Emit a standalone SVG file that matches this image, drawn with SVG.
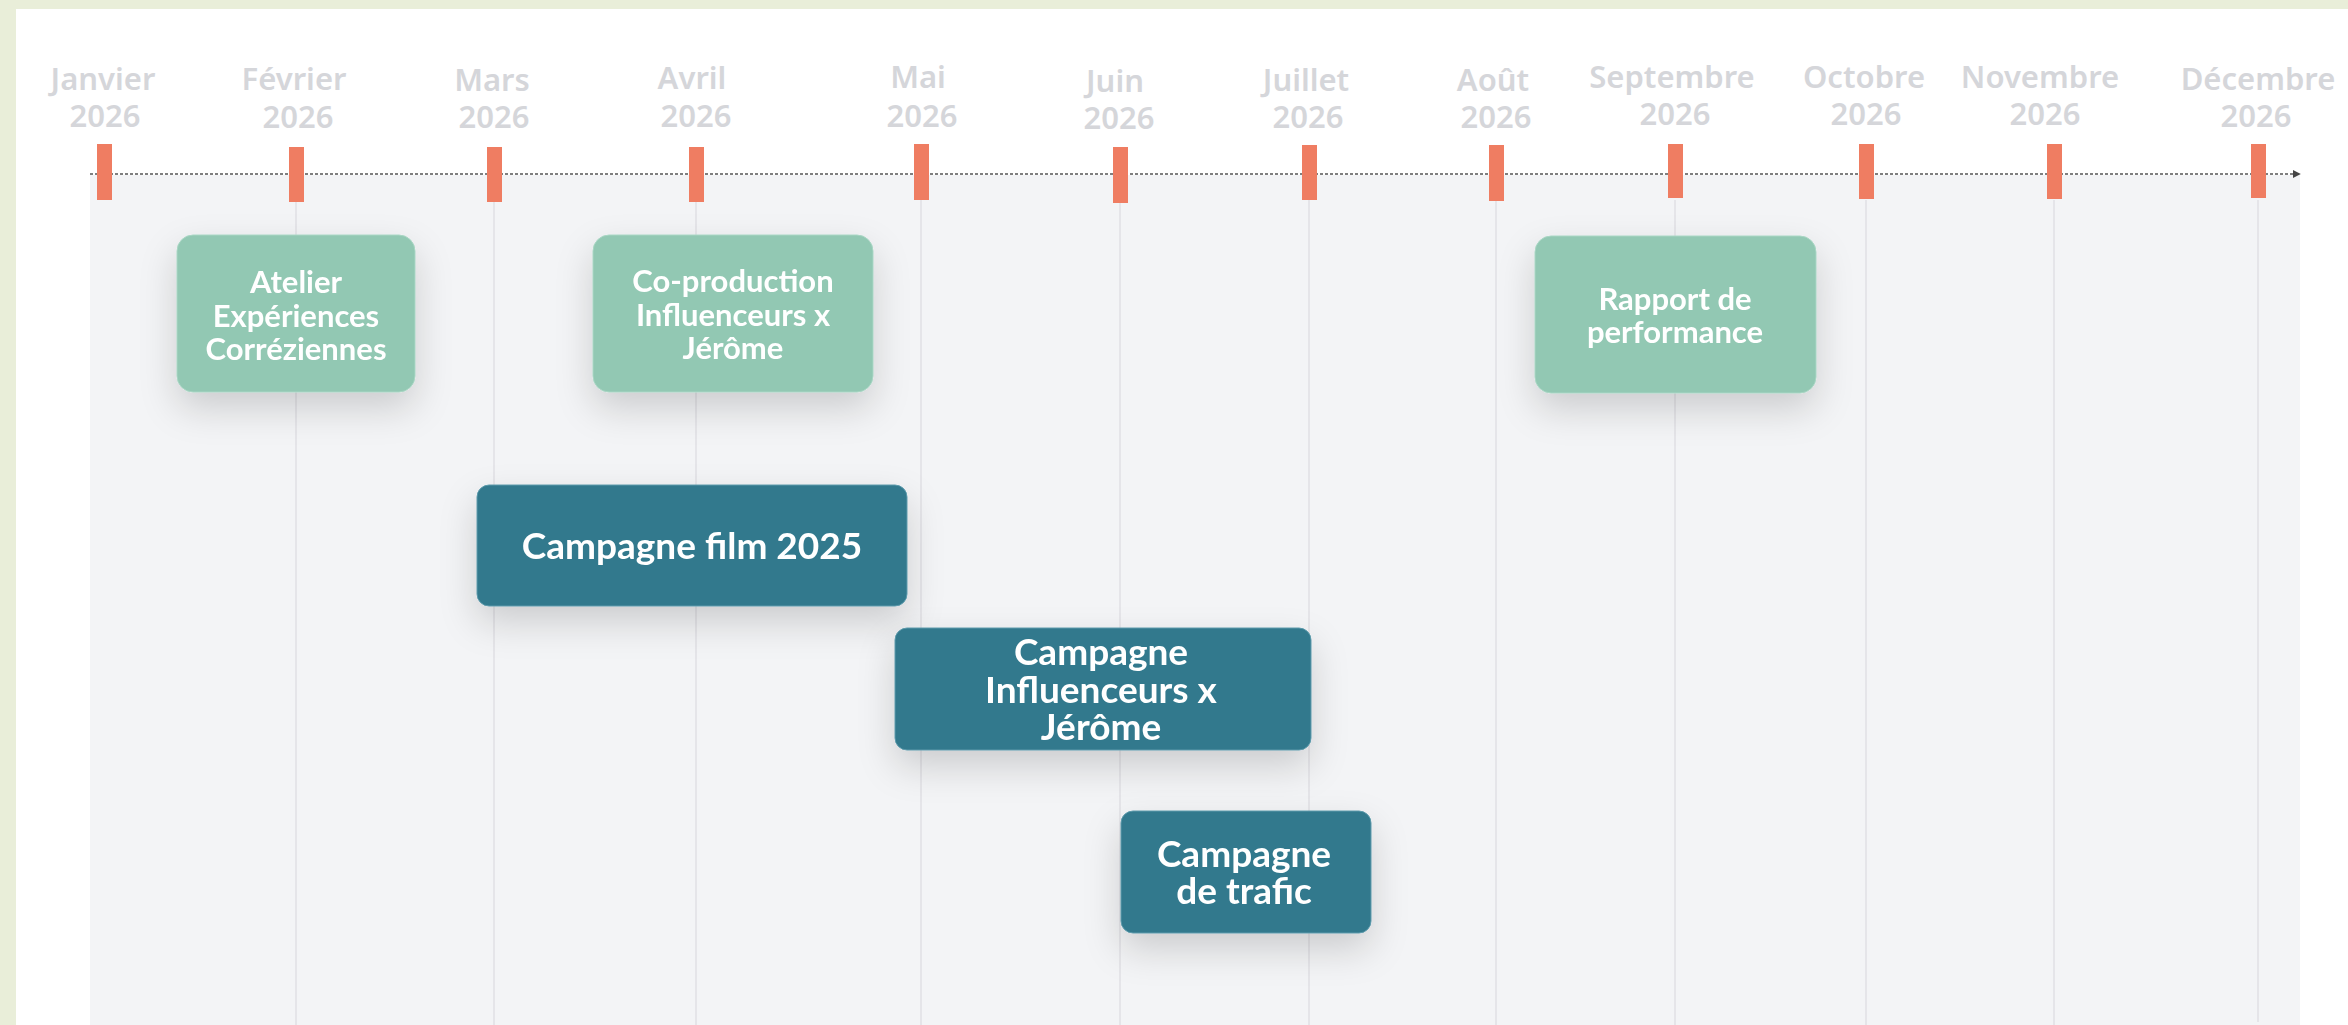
<svg xmlns="http://www.w3.org/2000/svg" width="2348" height="1025" viewBox="0 0 2348 1025">
  <defs>
    <style>
      .month { font-family: "Noto Sans", "DejaVu Sans", sans-serif; font-weight: 600; font-size: 31px; fill: #d5d6da; text-anchor: middle; }
      .tick { fill: #ef7d62; }
      .grid { stroke: #e0e1e5; stroke-width: 1.5; }
      .green { fill: #92c8b3; stroke: #a9d6c4; stroke-width: 1; }
      .teal { fill: #32798d; stroke: #5c9aab; stroke-width: 1; }
      .lbl { font-family: Lato, "Liberation Sans", sans-serif; font-weight: 700; fill: #ffffff; text-anchor: middle; }
      .s { font-size: 31px; }
      .l { font-size: 37px; }
    </style>
    <filter id="shadow" x="-30%" y="-30%" width="160%" height="190%">
      <feDropShadow dx="0" dy="16" stdDeviation="18" flood-color="#000000" flood-opacity="0.16"/>
    </filter>
    <marker id="arrow" viewBox="0 0 10 10" refX="9" refY="5" markerWidth="8" markerHeight="8" markerUnits="userSpaceOnUse" orient="auto">
      <path d="M0,0 L10,5 L0,10 z" fill="#444"/>
    </marker>
  </defs>

  <!-- background -->
  <rect x="0" y="0" width="2348" height="1025" fill="#e9eed9"/>
  <rect x="16" y="9" width="2332" height="1016" fill="#ffffff"/>
  <rect x="90" y="175" width="2210" height="850" fill="#f3f4f6"/>

  <!-- grid lines -->
  <g id="grid">
    <line class="grid" x1="296" y1="200" x2="296" y2="1025"/>
    <line class="grid" x1="494" y1="200" x2="494" y2="1025"/>
    <line class="grid" x1="696" y1="200" x2="696" y2="1025"/>
    <line class="grid" x1="921" y1="200" x2="921" y2="1025"/>
    <line class="grid" x1="1120" y1="200" x2="1120" y2="1025"/>
    <line class="grid" x1="1309" y1="200" x2="1309" y2="1025"/>
    <line class="grid" x1="1496" y1="200" x2="1496" y2="1025"/>
    <line class="grid" x1="1675" y1="200" x2="1675" y2="1025"/>
    <line class="grid" x1="1866" y1="200" x2="1866" y2="1025"/>
    <line class="grid" x1="2054" y1="200" x2="2054" y2="1025"/>
    <line class="grid" x1="2258" y1="200" x2="2258" y2="1022"/>
  </g>

  <!-- axis -->
  <g id="connectors">
    <line x1="90" y1="174" x2="2300" y2="174" stroke="#555" stroke-width="1.5" stroke-dasharray="3 2" marker-end="url(#arrow)"/>
  </g>

  <!-- month labels -->
  <g id="months">
    <text class="month" x="103" y="90">Janvier</text><text class="month" x="105" y="127">2026</text>
    <text class="month" x="294" y="90">Février</text><text class="month" x="298" y="128">2026</text>
    <text class="month" x="492" y="91">Mars</text><text class="month" x="494" y="128">2026</text>
    <text class="month" x="692" y="89">Avril</text><text class="month" x="696" y="127">2026</text>
    <text class="month" x="918" y="88">Mai</text><text class="month" x="922" y="127">2026</text>
    <text class="month" x="1115" y="92">Juin</text><text class="month" x="1119" y="129">2026</text>
    <text class="month" x="1306" y="91">Juillet</text><text class="month" x="1308" y="128">2026</text>
    <text class="month" x="1493" y="91">Août</text><text class="month" x="1496" y="128">2026</text>
    <text class="month" x="1672" y="88">Septembre</text><text class="month" x="1675" y="125">2026</text>
    <text class="month" x="1864" y="88">Octobre</text><text class="month" x="1866" y="125">2026</text>
    <text class="month" x="2040" y="88">Novembre</text><text class="month" x="2045" y="125">2026</text>
    <text class="month" x="2258" y="90">Décembre</text><text class="month" x="2256" y="127">2026</text>
  </g>

  <!-- ticks -->
  <g id="ticks">
    <rect class="tick" x="97" y="144" width="15" height="56"/>
    <rect class="tick" x="289" y="147" width="15" height="55"/>
    <rect class="tick" x="487" y="147" width="15" height="55"/>
    <rect class="tick" x="689" y="147" width="15" height="55"/>
    <rect class="tick" x="914" y="144" width="15" height="56"/>
    <rect class="tick" x="1113" y="147" width="15" height="56"/>
    <rect class="tick" x="1302" y="145" width="15" height="55"/>
    <rect class="tick" x="1489" y="145" width="15" height="56"/>
    <rect class="tick" x="1668" y="144" width="15" height="54"/>
    <rect class="tick" x="1859" y="144" width="15" height="55"/>
    <rect class="tick" x="2047" y="144" width="15" height="55"/>
    <rect class="tick" x="2251" y="144" width="15" height="54"/>
  </g>

  <!-- nodes -->
  <g id="node-atelier" filter="url(#shadow)">
    <rect class="green" x="177" y="235" width="238" height="157" rx="16"/>
    <text class="lbl s" x="296" y="293"><tspan x="296">Atelier</tspan><tspan x="296" dy="34">Expériences</tspan><tspan x="296" dy="33">Corréziennes</tspan></text>
  </g>
  <g id="node-coproduction" filter="url(#shadow)">
    <rect class="green" x="593" y="235" width="280" height="157" rx="16"/>
    <text class="lbl s" x="733" y="292"><tspan x="733">Co-production</tspan><tspan x="733" dy="34">Influenceurs x</tspan><tspan x="733" dy="33">Jérôme</tspan></text>
  </g>
  <g id="node-rapport" filter="url(#shadow)">
    <rect class="green" x="1535" y="236" width="281" height="157" rx="16"/>
    <text class="lbl s" x="1675" y="310"><tspan x="1675">Rapport de</tspan><tspan x="1675" dy="33">performance</tspan></text>
  </g>
  <g id="node-film" filter="url(#shadow)">
    <rect class="teal" x="477" y="485" width="430" height="121" rx="12"/>
    <text class="lbl l" x="692" y="559">Campagne film 2025</text>
  </g>
  <g id="node-influenceurs" filter="url(#shadow)">
    <rect class="teal" x="895" y="628" width="416" height="122" rx="12"/>
    <text class="lbl l" x="1101" y="665"><tspan x="1101">Campagne</tspan><tspan x="1101" dy="38">Influenceurs x</tspan><tspan x="1101" dy="37">Jérôme</tspan></text>
  </g>
  <g id="node-trafic" filter="url(#shadow)">
    <rect class="teal" x="1121" y="811" width="250" height="122" rx="12"/>
    <text class="lbl l" x="1244" y="867"><tspan x="1244">Campagne</tspan><tspan x="1244" dy="37">de trafic</tspan></text>
  </g>
</svg>
